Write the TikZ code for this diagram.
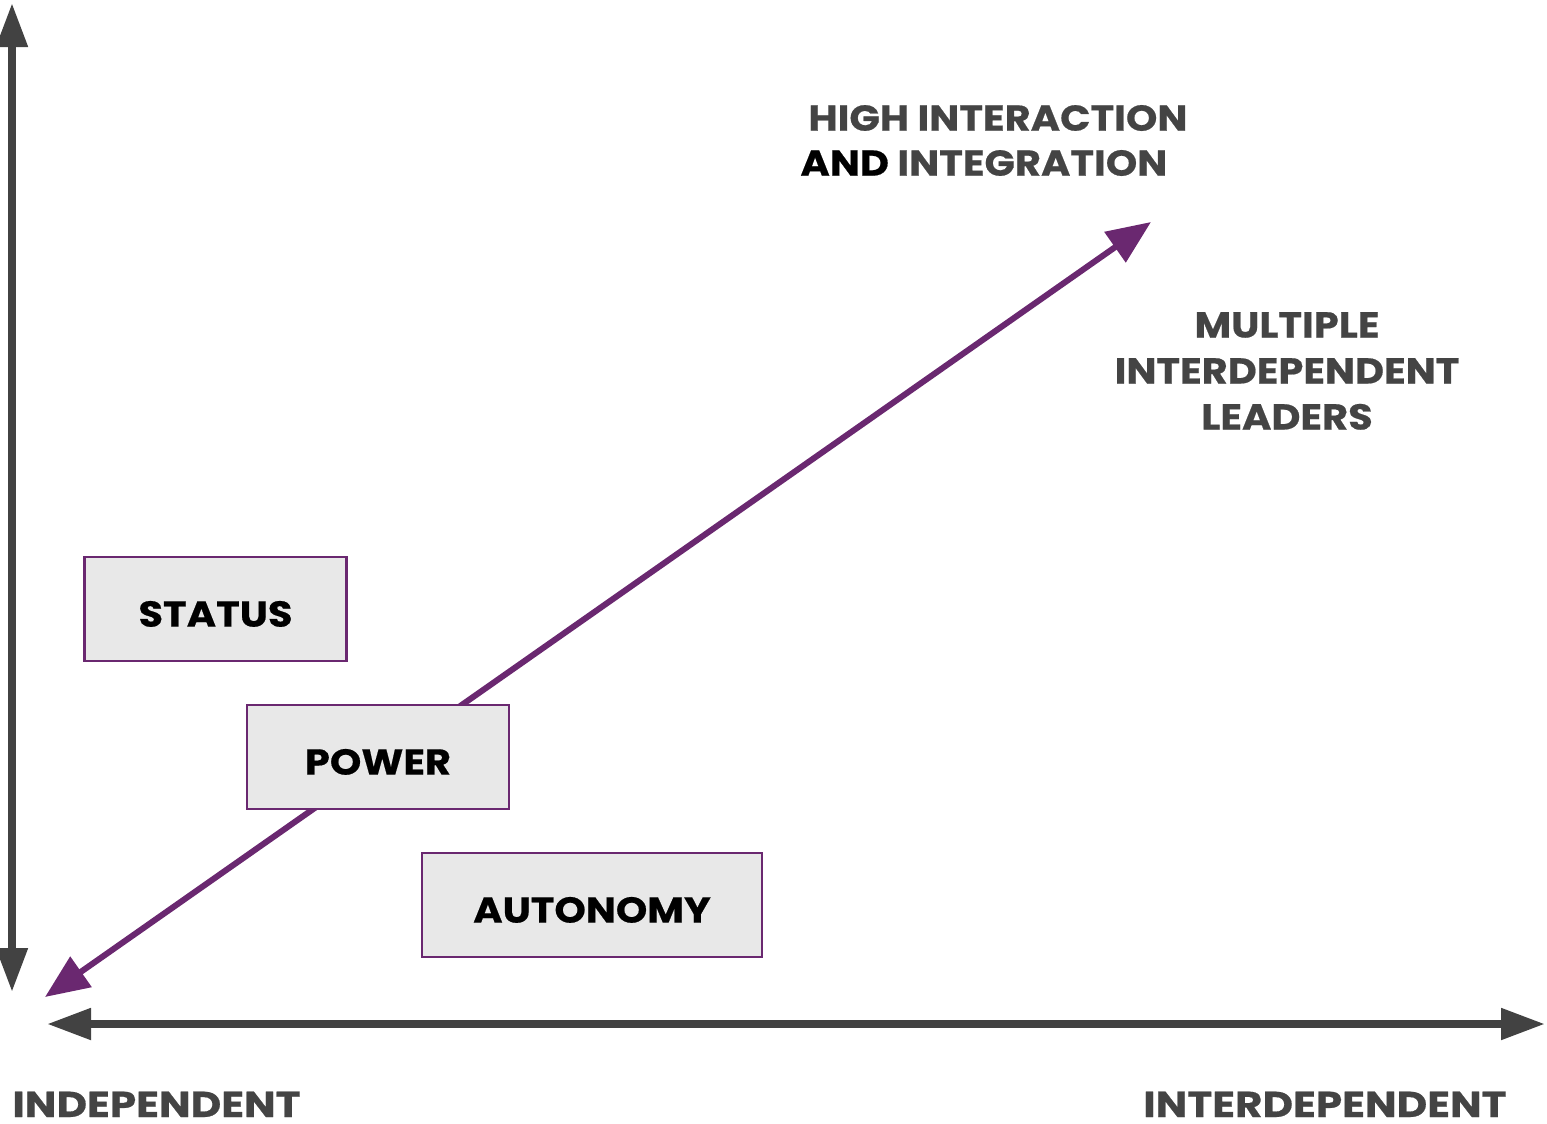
\documentclass[tikz,border=0pt]{standalone}
\usepackage{fontspec}
\setmainfont{Poppins}[BoldFont=* Bold]
\newfontfamily\widefont{Poppins}[BoldFont=* Bold, BoldFeatures={FakeBold=0.5}, FakeStretch=1.11]
\newfontfamily\widerfont{Poppins}[BoldFont=* Bold, BoldFeatures={FakeBold=0.5}, FakeStretch=1.17]
\usetikzlibrary{arrows.meta}
\definecolor{axisgray}{HTML}{424242}
\definecolor{txtgray}{HTML}{444444}
\definecolor{purp}{HTML}{6A2870}
\definecolor{boxfill}{HTML}{E8E8E8}
\tikzset{
  axis/.style={draw=axisgray, line width=4pt, {Triangle[length=22pt,width=15pt]}-{Triangle[length=22pt,width=15pt]}},
  purparrow/.style={draw=purp, line width=3pt, {Triangle[length=22pt,width=18pt]}-{Triangle[length=22pt,width=18pt]}},
  factor/.style={draw=purp, line width=1.3pt, fill=boxfill, minimum width=131pt, minimum height=52pt, inner sep=0pt, text height=17.6pt, text depth=0pt, font=\widefont\bfseries\fontsize{18}{20}\selectfont, text=black},
  lbl/.style={font=\widefont\bfseries\fontsize{18}{23}\selectfont, text=txtgray, inner sep=0pt, align=center},
  botlbl/.style={font=\widerfont\bfseries\fontsize{18}{20}\selectfont, text=txtgray, inner sep=0pt, text depth=0pt},
}
\begin{document}
\begin{tikzpicture}[x=0.5pt,y=-0.5pt]
\useasboundingbox (0,0) rectangle (1547,1124);
\coordinate (vtop) at (12,3);
\coordinate (vbot) at (12,992);
\coordinate (hl) at (47,1024);
\coordinate (hr) at (1545,1024);
\coordinate (dl) at (45,997);
\coordinate (dr) at (1151,222);
\draw[axis] (vbot) -- (vtop);
\draw[axis] (hl) -- (hr);
\draw[purparrow] (dl) -- (dr);
\node[factor, minimum width=131pt] (status) at (215.5,609) {STATUS};
\node[factor, minimum width=131pt] (power) at (378,757) {POWER};
\node[factor, minimum width=170pt] (autonomy) at (592,905) {AUTONOMY};
\node[lbl, anchor=west] (hi1) at (808,118) {HIGH INTERACTION};
\node[lbl, anchor=west] (hi2) at (800,163) {\textcolor{black}{AND} INTEGRATION};
\node[lbl] (mult) at (1287,371) {MULTIPLE\\INTERDEPENDENT\\LEADERS};
\node[botlbl, anchor=base west] (indep) at (12,1117) {INDEPENDENT};
\node[botlbl, anchor=base east] (inter) at (1507,1117) {INTERDEPENDENT};
\end{tikzpicture}
\end{document}
